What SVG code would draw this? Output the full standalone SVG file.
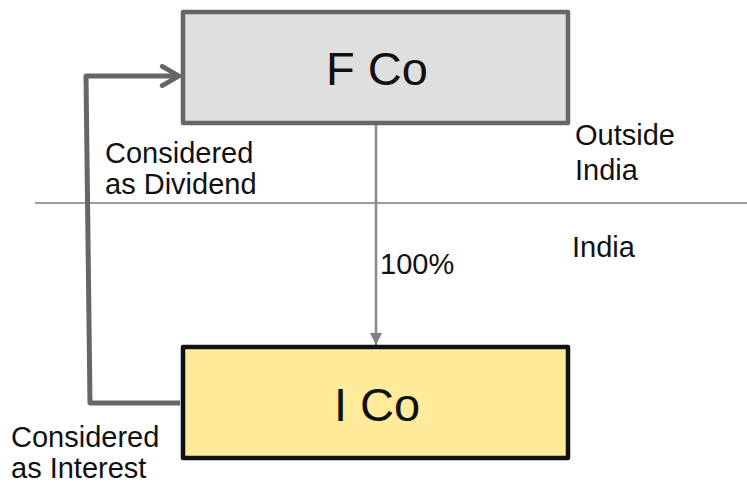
<svg xmlns="http://www.w3.org/2000/svg" width="747" height="485" viewBox="0 0 747 485">
  <defs>
    <style>
      text { font-family: "Liberation Sans", Arial, sans-serif; fill: #111; }
      .big { font-size: 47px; text-anchor: middle; }
      .lbl { font-size: 29px; }
      .box { stroke-width: 4.5; stroke-linejoin: round; }
    </style>
    <marker id="tri" viewBox="0 0 10 10" refX="10" refY="5" markerWidth="12" markerHeight="13" markerUnits="userSpaceOnUse" orient="auto">
      <path d="M0,0 L10,5 L0,10 Z" fill="#808080"/>
    </marker>
    <marker id="open" viewBox="0 0 20 20" refX="18" refY="10" markerWidth="24" markerHeight="24" markerUnits="userSpaceOnUse" orient="auto">
      <path d="M4,2 L18,10 L4,18" fill="none" stroke="#666" stroke-width="4" stroke-linecap="round" stroke-linejoin="round"/>
    </marker>
  </defs>

  <!-- border between jurisdictions -->
  <line x1="35" y1="203" x2="747" y2="203" stroke="#7a7a7a" stroke-width="1.5"/>

  <g id="connectors">
    <!-- shareholding -->
    <line x1="376" y1="124" x2="376" y2="345" stroke="#8a8a8a" stroke-width="2.5" marker-end="url(#tri)"/>
    <!-- payment loop back to parent -->
    <polyline points="180,403 90,403 86,76 179,76" fill="none" stroke="#666" stroke-width="5" stroke-linejoin="round" marker-end="url(#open)"/>
  </g>

  <g id="fco">
    <rect class="box" x="183" y="12" width="385" height="111" fill="#dfdfdf" stroke="#666"/>
    <text class="big" x="377" y="85">F Co</text>
  </g>

  <g id="ico">
    <rect class="box" x="183" y="347" width="385" height="111" fill="#ffeb99" stroke="#111"/>
    <text class="big" x="377" y="421">I Co</text>
  </g>

  <g id="labels">
    <text class="lbl" x="105" y="163">Considered</text>
    <text class="lbl" x="105" y="194">as Dividend</text>
    <text class="lbl" x="575" y="145">Outside</text>
    <text class="lbl" x="575" y="180">India</text>
    <text class="lbl" x="572" y="257">India</text>
    <text class="lbl" x="380" y="274">100%</text>
    <text class="lbl" x="11" y="447">Considered</text>
    <text class="lbl" x="11" y="478">as Interest</text>
  </g>
</svg>
